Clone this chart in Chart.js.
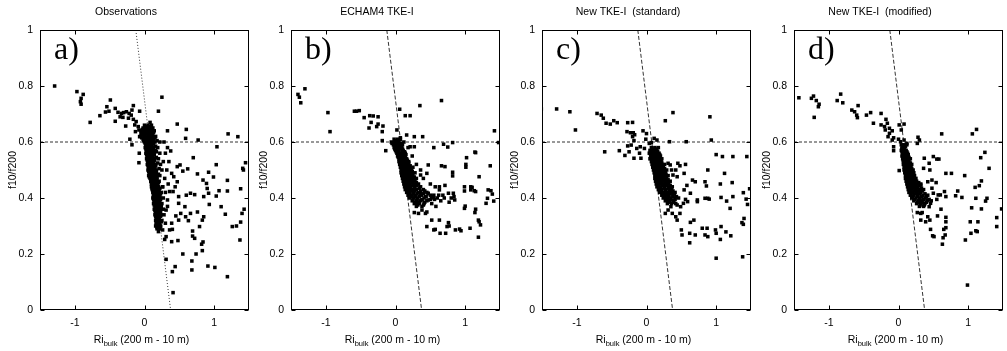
<!DOCTYPE html>
<html>
<head>
<meta charset="utf-8">
<script src="https://cdn.jsdelivr.net/npm/chart.js@4.4.0/dist/chart.umd.min.js"></script>
<style>
    html, body { margin: 0; padding: 0; background: #fff; }
    #wrap { position: relative; width: 1007px; height: 351px; overflow: hidden; }
    .panel { position: absolute; top: 0; width: 253px; height: 351px; }
</style>
</head>
<body>
<div id="wrap">
    <div class="panel" style="left:0px"><canvas id="panelA"></canvas></div>
    <div class="panel" style="left:251px"><canvas id="panelB"></canvas></div>
    <div class="panel" style="left:502px"><canvas id="panelC"></canvas></div>
    <div class="panel" style="left:754px"><canvas id="panelD"></canvas></div>
</div>
<script>
const panelTitles = ["Observations", "ECHAM4 TKE-I", "New TKE-I  (standard)", "New TKE-I  (modified)"]
const panelLetters = ["a)", "b)", "c)", "d)"]
const xRange = [-1.5, 1.5]
const yRange = [0, 1]
const xTicks = [-1, 0, 1]
const yTicks = [0, 0.2, 0.4, 0.6, 0.8, 1]
const thresholdY = 0.6
const regimeLineX = [-0.125, 0.375]
const regimeLineY = [1, 0]

// a) observations  [Ri_bulk, f10/f200]
const obsPoints = [
    [-1.29,0.80],[-0.97,0.78],[-0.88,0.77],[-0.91,0.756],[-0.92,0.744],[-0.91,0.735],[-0.78,0.67],[-0.64,0.694],
    [-0.49,0.75],[-0.54,0.726],[-0.56,0.707],[-0.51,0.71],[-0.42,0.72],[-0.42,0.674],[-0.38,0.706],[-0.33,0.702],
    [-0.30,0.705],[-0.26,0.708],[-0.22,0.702],[-0.19,0.696],[-0.35,0.69],[-0.31,0.688],[-0.23,0.685],[-0.16,0.681],
    [-0.12,0.673],[-0.14,0.661],[-0.09,0.655],[-0.08,0.643],[-0.13,0.637],[-0.05,0.631],[-0.07,0.619],[-0.16,0.73],
    [-0.18,0.714],[-0.07,0.71],[-0.27,0.657],[0.25,0.76],[0.20,0.71],[0.33,0.64],[0.47,0.664],[0.60,0.645],
    [-0.21,0.61],[-0.18,0.59],[-0.075,0.56],[-0.08,0.526],[0.77,0.607],[1.2,0.629],[1.34,0.619],[1.04,0.583],
    [0.33,0.58],[0.59,0.613],[0.376,0.568],[0.51,0.518],[0.47,0.512],[0.55,0.496],[0.62,0.504],[0.70,0.544],
    [0.76,0.486],[0.84,0.464],[0.92,0.492],[0.99,0.475],[1.03,0.519],[0.89,0.452],[0.90,0.434],[0.92,0.417],
    [0.85,0.405],[0.93,0.377],[1.03,0.407],[1.07,0.426],[1.19,0.463],[1.19,0.425],[1.41,0.506],[1.42,0.50],
    [1.45,0.526],[1.38,0.433],[1.43,0.36],[1.40,0.345],[1.38,0.314],[1.32,0.30],[1.26,0.298],[1.16,0.342],
    [1.10,0.369],[1.37,0.25],[1.19,0.119],[1.01,0.152],[0.91,0.157],[0.83,0.212],[0.82,0.235],[0.84,0.243],
    [0.74,0.20],[0.68,0.175],[0.68,0.143],[0.69,0.264],[0.69,0.282],[0.72,0.256],[0.55,0.20],[0.48,0.248],
    [0.39,0.244],[0.31,0.262],[0.29,0.252],[0.31,0.181],[0.44,0.155],[0.40,0.137],[0.41,0.062],[0.85,0.333],
    [0.83,0.321],[0.79,0.298],[0.76,0.35],[0.66,0.345],[0.63,0.319],[0.59,0.333],[0.6,0.41],[0.66,0.417],
    [0.72,0.412],[0.58,0.369],[0.49,0.381],[0.52,0.345],[0.49,0.321],[0.45,0.336],[0.39,0.31],[0.36,0.286],
    [0.40,0.288],[0.31,0.357],[0.33,0.393],[0.36,0.423],[0.41,0.423],[0.44,0.44],[0.47,0.458],[0.42,0.476],
    [0.39,0.488],[0.49,0.405],[0.26,0.286],[0.23,0.298],[0.19,0.321],[0.28,0.6],[0.3,0.56],[0.27,0.53],
    [0.32,0.5],[0.29,0.47],[0.34,0.45],[0.3,0.42],[0.27,0.4],[0.33,0.37],[0.28,0.34],[0.3,0.31],[0.26,0.44],[0.35,0.53],
    [0.0,0.66],[0.05,0.66],[0.1,0.66],[0.08,0.67],[-0.02,0.65],[0.03,0.65],[0.07,0.65],[0.12,0.65],
    [-0.05,0.64],[0.0,0.64],[0.04,0.64],[0.09,0.64],[0.14,0.64],[-0.03,0.63],[0.02,0.63],[0.06,0.63],[0.11,0.63],
    [-0.06,0.62],[0.0,0.62],[0.05,0.62],[0.1,0.62],[0.16,0.62],[-0.02,0.61],[0.03,0.61],[0.08,0.61],[0.13,0.61],
    [0.0,0.6],[0.05,0.6],[0.09,0.6],[0.15,0.6],[0.22,0.6],[0.02,0.59],[0.06,0.59],[0.11,0.59],
    [0.01,0.58],[0.04,0.58],[0.08,0.58],[0.13,0.58],[0.19,0.58],[0.03,0.57],[0.07,0.57],[0.1,0.57],[0.16,0.57],
    [0.02,0.56],[0.05,0.56],[0.09,0.56],[0.14,0.56],[0.22,0.56],[0.04,0.55],[0.08,0.55],[0.12,0.55],
    [0.03,0.54],[0.06,0.54],[0.1,0.54],[0.15,0.54],[0.2,0.54],[0.05,0.53],[0.09,0.53],[0.13,0.53],
    [0.04,0.52],[0.07,0.52],[0.11,0.52],[0.16,0.52],[0.23,0.52],[0.06,0.51],[0.1,0.51],[0.14,0.51],
    [0.05,0.5],[0.08,0.5],[0.12,0.5],[0.17,0.5],[0.25,0.5],[0.07,0.49],[0.11,0.49],[0.15,0.49],
    [0.06,0.48],[0.09,0.48],[0.13,0.48],[0.18,0.48],[0.22,0.48],[0.08,0.47],[0.12,0.47],[0.16,0.47],
    [0.09,0.46],[0.13,0.46],[0.17,0.46],[0.21,0.46],[0.1,0.45],[0.14,0.45],[0.18,0.45],
    [0.1,0.44],[0.13,0.44],[0.16,0.44],[0.2,0.44],[0.26,0.44],[0.11,0.43],[0.15,0.43],[0.19,0.43],
    [0.12,0.42],[0.16,0.42],[0.2,0.42],[0.24,0.42],[0.13,0.41],[0.17,0.41],[0.22,0.41],
    [0.12,0.4],[0.15,0.4],[0.19,0.4],[0.23,0.4],[0.14,0.39],[0.18,0.39],[0.21,0.39],
    [0.13,0.38],[0.17,0.38],[0.2,0.38],[0.25,0.38],[0.15,0.37],[0.19,0.37],[0.23,0.37],
    [0.14,0.36],[0.18,0.36],[0.22,0.36],[0.27,0.36],[0.16,0.35],[0.2,0.35],[0.15,0.34],[0.19,0.34],[0.24,0.34],
    [0.17,0.33],[0.21,0.33],[0.16,0.32],[0.2,0.32],[0.25,0.32],[0.17,0.31],[0.22,0.31],
    [0.16,0.3],[0.19,0.3],[0.23,0.3],[0.18,0.29],[0.22,0.29],[0.2,0.28],
    [0.01,0.655],[0.05,0.655],[0.09,0.655],[-0.03,0.645],[0.01,0.645],[0.06,0.645],[0.11,0.645],
    [-0.04,0.635],[0.01,0.635],[0.05,0.635],[0.09,0.635],[0.13,0.635],[-0.04,0.625],[0.01,0.625],[0.07,0.625],[0.12,0.625],
    [-0.04,0.615],[0.01,0.615],[0.06,0.615],[0.11,0.615],[0.15,0.615],[-0.01,0.605],[0.04,0.605],[0.08,0.605],[0.12,0.605],[0.18,0.605],
    [0.01,0.595],[0.04,0.595],[0.08,0.595],[0.13,0.595],[0.02,0.585],[0.06,0.585],[0.1,0.585],[0.16,0.585],
    [0.02,0.575],[0.05,0.575],[0.09,0.575],[0.13,0.575],[0.03,0.565],[0.07,0.565],[0.12,0.565],[0.17,0.565],
    [0.03,0.555],[0.06,0.555],[0.1,0.555],[0.14,0.555],[0.04,0.545],[0.08,0.545],[0.12,0.545],[0.17,0.545],
    [0.04,0.535],[0.07,0.535],[0.11,0.535],[0.14,0.535],[0.05,0.525],[0.09,0.525],[0.13,0.525],[0.19,0.525],
    [0.05,0.515],[0.08,0.515],[0.12,0.515],[0.16,0.515],[0.06,0.505],[0.1,0.505],[0.15,0.505],[0.21,0.505],
    [0.06,0.495],[0.09,0.495],[0.13,0.495],[0.17,0.495],[0.07,0.485],[0.11,0.485],[0.16,0.485],[0.2,0.485],
    [0.07,0.475],[0.1,0.475],[0.14,0.475],[0.18,0.475],[0.09,0.465],[0.13,0.465],[0.18,0.465],
    [0.1,0.455],[0.13,0.455],[0.16,0.455],[0.2,0.455],[0.11,0.445],[0.15,0.445],[0.19,0.445],
    [0.11,0.435],[0.14,0.435],[0.18,0.435],[0.22,0.435],[0.12,0.425],[0.17,0.425],[0.21,0.425],
    [0.13,0.415],[0.16,0.415],[0.2,0.415],[0.23,0.415],[0.13,0.405],[0.17,0.405],[0.2,0.405],
    [0.13,0.395],[0.16,0.395],[0.2,0.395],[0.23,0.395],[0.14,0.385],[0.18,0.385],[0.22,0.385],
    [0.14,0.375],[0.18,0.375],[0.21,0.375],[0.24,0.375],[0.16,0.365],[0.2,0.365],[0.24,0.365],
    [0.15,0.355],[0.19,0.355],[0.23,0.355],[0.16,0.345],[0.2,0.345],[0.23,0.345],[0.16,0.335],[0.2,0.335],[0.23,0.335],
    [0.17,0.325],[0.21,0.325],[0.17,0.315],[0.21,0.315],[0.24,0.315],[0.17,0.305],[0.21,0.305],[0.18,0.295],[0.21,0.295]
]

// b) ECHAM4 TKE-I
const echamPoints = [
    [-1.40,0.77],[-1.38,0.76],[-1.36,0.74],[-1.30,0.79],[-0.97,0.705],[-0.94,0.637],[-0.59,0.71],[-0.56,0.71],
    [-0.52,0.712],[-0.45,0.687],[-0.37,0.694],[-0.32,0.693],[-0.25,0.69],[-0.38,0.65],[-0.35,0.67],[-0.27,0.655],
    [-0.25,0.664],[-0.18,0.657],[-0.19,0.637],[-0.19,0.605],[-0.14,0.569],[0.02,0.643],[0.06,0.717],[0.14,0.694],
    [0.21,0.694],[0.35,0.73],[0.66,0.748],[0.07,0.615],[0.16,0.625],[0.39,0.619],[0.27,0.583],[0.21,0.583],
    [0.27,0.619],[0.55,0.58],[0.69,0.592],[0.82,0.598],[0.75,0.582],[1.42,0.64],[1.48,0.598],[0.47,0.518],
    [0.45,0.488],[0.36,0.5],[0.36,0.482],[0.66,0.515],[0.71,0.512],[0.82,0.492],[0.82,0.479],[1.01,0.52],
    [1.01,0.51],[1.02,0.544],[1.14,0.564],[1.15,0.562],[1.20,0.476],[1.36,0.515],[0.57,0.44],[0.63,0.44],
    [0.63,0.429],[0.71,0.445],[0.76,0.417],[0.83,0.417],[0.84,0.405],[0.85,0.393],[0.77,0.385],[0.99,0.44],
    [0.99,0.425],[1.08,0.44],[1.08,0.429],[1.10,0.438],[1.13,0.426],[1.15,0.423],[1.00,0.371],[0.99,0.363],
    [1.15,0.36],[1.14,0.348],[1.19,0.321],[1.20,0.315],[1.22,0.304],[1.19,0.26],[1.30,0.381],[1.32,0.399],
    [1.33,0.429],[1.37,0.426],[1.39,0.414],[1.41,0.389],[1.07,0.292],[0.86,0.286],[0.92,0.289],[0.94,0.283],
    [0.76,0.312],[0.77,0.30],[0.74,0.298],[0.64,0.274],[0.72,0.274],[0.57,0.288],[0.55,0.286],[0.45,0.298],
    [0.52,0.321],[0.63,0.321],[0.45,0.35],[0.43,0.345],[0.38,0.357],[0.33,0.345],[0.27,0.348],[0.47,0.393],
    [0.52,0.405],[0.47,0.417],[0.43,0.405],[0.38,0.393],[0.36,0.417],[0.31,0.381],[0.28,0.405],
    [0.12,0.6],[0.18,0.58],[0.24,0.55],[0.3,0.52],[0.4,0.47],[0.5,0.45],[0.55,0.41],[0.6,0.4],[0.65,0.39],
    [0.58,0.37],[0.52,0.38],[0.68,0.41],[0.56,0.395],[0.62,0.41],[0.7,0.4],[0.8,0.4],
    [-0.02,0.61],[0.03,0.61],[0.07,0.61],[-0.06,0.6],[-0.01,0.6],[0.04,0.6],[-0.03,0.59],[0.01,0.59],[0.06,0.59],[0.1,0.59],
    [-0.02,0.58],[0.03,0.58],[0.08,0.58],[0.0,0.57],[0.04,0.57],[0.11,0.57],[0.02,0.56],[0.06,0.56],[0.09,0.56],[0.14,0.56],
    [0.03,0.55],[0.07,0.55],[0.12,0.55],[0.05,0.54],[0.08,0.54],[0.11,0.54],[0.16,0.54],
    [0.05,0.53],[0.09,0.53],[0.13,0.53],[0.19,0.53],[0.06,0.52],[0.1,0.52],[0.14,0.52],[0.18,0.52],
    [0.07,0.51],[0.11,0.51],[0.15,0.51],[0.2,0.51],[0.25,0.51],[0.08,0.5],[0.12,0.5],[0.16,0.5],[0.21,0.5],
    [0.08,0.49],[0.12,0.49],[0.17,0.49],[0.22,0.49],[0.28,0.49],[0.09,0.48],[0.13,0.48],[0.18,0.48],[0.23,0.48],
    [0.1,0.47],[0.14,0.47],[0.19,0.47],[0.24,0.47],[0.3,0.47],[0.11,0.46],[0.15,0.46],[0.2,0.46],[0.26,0.46],
    [0.12,0.45],[0.16,0.45],[0.21,0.45],[0.27,0.45],[0.33,0.45],[0.13,0.44],[0.17,0.44],[0.22,0.44],[0.28,0.44],[0.36,0.44],
    [0.14,0.43],[0.19,0.43],[0.24,0.43],[0.3,0.43],[0.4,0.43],[0.16,0.42],[0.2,0.42],[0.26,0.42],[0.33,0.42],[0.45,0.42],
    [0.18,0.41],[0.23,0.41],[0.29,0.41],[0.37,0.41],[0.5,0.41],[0.2,0.4],[0.26,0.4],[0.32,0.4],[0.41,0.4],[0.55,0.4],
    [0.24,0.39],[0.3,0.39],[0.36,0.39],[0.45,0.39],[0.27,0.38],[0.34,0.38],[0.41,0.38],[0.3,0.37],[0.38,0.37],
    [0.0,0.605],[0.05,0.605],[-0.05,0.595],[-0.01,0.595],[0.03,0.595],[0.08,0.595],[0.0,0.585],[0.05,0.585],[0.09,0.585],
    [-0.01,0.575],[0.02,0.575],[0.06,0.575],[0.1,0.575],[0.01,0.565],[0.05,0.565],[0.1,0.565],[0.13,0.565],
    [0.04,0.555],[0.08,0.555],[0.11,0.555],[0.15,0.555],[0.04,0.545],[0.07,0.545],[0.1,0.545],[0.14,0.545],
    [0.06,0.535],[0.1,0.535],[0.14,0.535],[0.17,0.535],[0.07,0.525],[0.11,0.525],[0.15,0.525],[0.19,0.525],
    [0.08,0.515],[0.12,0.515],[0.16,0.515],[0.21,0.515],[0.09,0.505],[0.13,0.505],[0.18,0.505],[0.23,0.505],
    [0.1,0.495],[0.14,0.495],[0.19,0.495],[0.24,0.495],[0.1,0.485],[0.15,0.485],[0.2,0.485],[0.25,0.485],
    [0.11,0.475],[0.16,0.475],[0.21,0.475],[0.27,0.475],[0.12,0.465],[0.17,0.465],[0.22,0.465],[0.28,0.465],
    [0.13,0.455],[0.18,0.455],[0.24,0.455],[0.3,0.455],[0.14,0.445],[0.19,0.445],[0.25,0.445],[0.31,0.445],
    [0.15,0.435],[0.21,0.435],[0.27,0.435],[0.34,0.435],[0.17,0.425],[0.22,0.425],[0.28,0.425],[0.36,0.425],[0.42,0.425],
    [0.19,0.415],[0.25,0.415],[0.31,0.415],[0.4,0.415],[0.47,0.415],[0.22,0.405],[0.28,0.405],[0.34,0.405],[0.44,0.405],[0.52,0.405],
    [0.25,0.395],[0.31,0.395],[0.38,0.395],[0.5,0.395],[0.28,0.385],[0.34,0.385],[0.42,0.385],[0.32,0.375],[0.4,0.375]
]

// c) new TKE-I, standard
const standardPoints = [
    [-1.51,0.718],[-1.29,0.718],[-1.10,0.708],[-1.02,0.643],[-0.71,0.702],[-0.65,0.696],[-0.62,0.685],[-0.58,0.667],
    [-0.52,0.664],[-0.47,0.676],[-0.42,0.669],[-0.60,0.565],[-0.39,0.569],[-0.31,0.552],[-0.27,0.586],[-0.27,0.669],
    [-0.20,0.67],[-0.28,0.637],[-0.23,0.633],[-0.19,0.633],[-0.17,0.626],[-0.20,0.619],[-0.18,0.605],[-0.22,0.589],
    [-0.25,0.565],[-0.18,0.542],[-0.14,0.577],[-0.09,0.583],[-0.10,0.56],[-0.03,0.577],[-0.01,0.61],[-0.05,0.64],
    [0.0,0.63],[-0.08,0.542],[0.04,0.595],[0.07,0.598],[0.11,0.613],[0.15,0.607],[0.27,0.676],[0.38,0.705],
    [0.33,0.601],[0.57,0.601],[0.91,0.69],[0.93,0.607],[1.00,0.555],[1.09,0.548],[1.24,0.548],[1.44,0.548],
    [0.45,0.524],[0.48,0.515],[0.56,0.52],[0.54,0.488],[0.66,0.464],[0.70,0.458],[0.44,0.476],[0.42,0.5],
    [0.38,0.482],[0.36,0.5],[0.34,0.518],[0.31,0.524],[0.88,0.5],[0.84,0.458],[0.86,0.443],[1.06,0.45],
    [1.12,0.488],[1.23,0.455],[0.58,0.445],[0.54,0.429],[0.63,0.417],[0.73,0.393],[0.73,0.387],[0.84,0.399],
    [0.88,0.399],[0.90,0.396],[1.07,0.402],[1.15,0.389],[1.20,0.363],[1.24,0.405],[1.39,0.419],[1.43,0.396],
    [1.45,0.377],[1.48,0.433],[1.40,0.327],[1.37,0.312],[1.39,0.306],[1.38,0.19],[1.00,0.185],[0.99,0.286],
    [1.00,0.274],[1.06,0.252],[1.07,0.298],[1.14,0.279],[1.21,0.265],[0.80,0.292],[0.87,0.292],[0.88,0.262],
    [0.84,0.268],[0.68,0.321],[0.70,0.268],[0.63,0.313],[0.62,0.274],[0.62,0.24],[0.50,0.286],[0.51,0.268],
    [0.44,0.321],[0.48,0.345],[0.42,0.333],[0.37,0.345],[0.31,0.357],[0.27,0.345],[0.56,0.395],[0.59,0.387],
    [0.53,0.381],[0.49,0.369],[0.44,0.375],[0.39,0.387],[0.35,0.369],[0.29,0.393],
    [0.07,0.58],[0.12,0.58],[0.17,0.58],[0.05,0.57],[0.1,0.57],[0.15,0.57],[0.04,0.56],[0.08,0.56],[0.13,0.56],[0.18,0.56],
    [0.06,0.55],[0.1,0.55],[0.15,0.55],[0.2,0.55],[0.05,0.54],[0.09,0.54],[0.13,0.54],[0.17,0.54],[0.22,0.54],
    [0.07,0.53],[0.11,0.53],[0.15,0.53],[0.2,0.53],[0.08,0.52],[0.12,0.52],[0.16,0.52],[0.21,0.52],[0.26,0.52],
    [0.09,0.51],[0.13,0.51],[0.18,0.51],[0.23,0.51],[0.1,0.5],[0.14,0.5],[0.19,0.5],[0.24,0.5],[0.29,0.5],
    [0.11,0.49],[0.15,0.49],[0.2,0.49],[0.25,0.49],[0.12,0.48],[0.16,0.48],[0.21,0.48],[0.26,0.48],[0.31,0.48],
    [0.12,0.47],[0.17,0.47],[0.22,0.47],[0.27,0.47],[0.13,0.46],[0.18,0.46],[0.23,0.46],[0.28,0.46],[0.34,0.46],
    [0.14,0.45],[0.19,0.45],[0.24,0.45],[0.3,0.45],[0.15,0.44],[0.2,0.44],[0.26,0.44],[0.32,0.44],[0.37,0.44],
    [0.17,0.43],[0.22,0.43],[0.28,0.43],[0.34,0.43],[0.19,0.42],[0.24,0.42],[0.3,0.42],[0.36,0.42],[0.41,0.42],
    [0.22,0.41],[0.27,0.41],[0.32,0.41],[0.38,0.41],[0.24,0.4],[0.3,0.4],[0.35,0.4],[0.41,0.4],[0.46,0.4],
    [0.27,0.39],[0.33,0.39],[0.39,0.39],[0.3,0.38],[0.36,0.38],[0.42,0.38],
    [0.08,0.575],[0.13,0.575],[0.06,0.565],[0.11,0.565],[0.16,0.565],[0.06,0.555],[0.1,0.555],[0.14,0.555],[0.19,0.555],
    [0.07,0.545],[0.11,0.545],[0.15,0.545],[0.19,0.545],[0.08,0.535],[0.12,0.535],[0.16,0.535],[0.21,0.535],
    [0.09,0.525],[0.13,0.525],[0.17,0.525],[0.22,0.525],[0.1,0.515],[0.14,0.515],[0.19,0.515],[0.24,0.515],
    [0.11,0.505],[0.16,0.505],[0.21,0.505],[0.26,0.505],[0.12,0.495],[0.17,0.495],[0.22,0.495],[0.27,0.495],
    [0.13,0.485],[0.18,0.485],[0.23,0.485],[0.28,0.485],[0.14,0.475],[0.19,0.475],[0.24,0.475],[0.29,0.475],
    [0.15,0.465],[0.2,0.465],[0.25,0.465],[0.31,0.465],[0.16,0.455],[0.21,0.455],[0.27,0.455],[0.32,0.455],
    [0.17,0.445],[0.23,0.445],[0.28,0.445],[0.34,0.445],[0.19,0.435],[0.25,0.435],[0.31,0.435],[0.36,0.435],
    [0.21,0.425],[0.27,0.425],[0.33,0.425],[0.38,0.425],[0.23,0.415],[0.29,0.415],[0.34,0.415],[0.4,0.415],
    [0.26,0.405],[0.32,0.405],[0.38,0.405],[0.43,0.405],[0.28,0.395],[0.35,0.395],[0.41,0.395],[0.32,0.385],[0.38,0.385]
]

// d) new TKE-I, modified
const modifiedPoints = [
    [-1.43,0.758],[-1.25,0.756],[-1.22,0.764],[-1.18,0.748],[-1.14,0.735],[-1.15,0.726],[-1.21,0.688],[-0.88,0.748],
    [-0.83,0.771],[-0.80,0.74],[-0.67,0.714],[-0.63,0.708],[-0.60,0.696],[-0.58,0.73],[-0.59,0.687],[-0.46,0.696],
    [-0.40,0.705],[-0.36,0.667],[-0.25,0.702],[-0.25,0.661],[-0.18,0.681],[-0.16,0.667],[-0.20,0.655],[-0.19,0.643],
    [-0.13,0.649],[-0.09,0.64],[-0.13,0.631],[-0.15,0.619],[-0.07,0.615],[-0.09,0.607],[-0.07,0.583],[-0.07,0.569],
    [0.01,0.498],[0.01,0.661],[0.08,0.664],[0.04,0.643],[0.0,0.61],[0.03,0.601],[0.06,0.577],[0.08,0.607],
    [0.12,0.595],[0.28,0.617],[0.30,0.607],[0.27,0.595],[0.62,0.629],[1.06,0.629],[1.12,0.645],[1.24,0.563],
    [1.18,0.544],[1.19,0.461],[1.30,0.506],[1.16,0.444],[1.10,0.438],[1.11,0.399],[1.27,0.399],[1.25,0.389],
    [1.19,0.361],[1.48,0.361],[1.41,0.33],[1.41,0.298],[1.05,0.365],[1.03,0.315],[1.14,0.315],[1.11,0.283],
    [1.13,0.28],[1.04,0.274],[0.96,0.25],[0.99,0.089],[0.95,0.48],[0.91,0.402],[0.85,0.425],[0.82,0.408],
    [0.76,0.488],[0.68,0.488],[0.68,0.405],[0.66,0.423],[0.60,0.411],[0.57,0.411],[0.55,0.395],[0.54,0.455],
    [0.58,0.539],[0.55,0.539],[0.50,0.548],[0.44,0.524],[0.37,0.542],[0.36,0.506],[0.45,0.5],[0.48,0.464],
    [0.42,0.458],[0.48,0.435],[0.50,0.417],[0.32,0.446],[0.68,0.331],[0.68,0.315],[0.68,0.294],[0.65,0.288],
    [0.67,0.268],[0.64,0.258],[0.63,0.235],[0.61,0.36],[0.56,0.336],[0.46,0.288],[0.49,0.265],[0.51,0.262],
    [0.45,0.321],[0.42,0.333],[0.39,0.315],[0.32,0.321],[0.32,0.345],[0.34,0.348],[0.27,0.348],[0.44,0.369],
    [0.46,0.381],[0.42,0.393],[0.37,0.381],[0.32,0.383],
    [0.04,0.59],[0.08,0.59],[0.12,0.59],[0.05,0.58],[0.09,0.58],[0.04,0.57],[0.07,0.57],[0.11,0.57],
    [0.06,0.56],[0.1,0.56],[0.13,0.56],[0.05,0.55],[0.08,0.55],[0.12,0.55],[0.06,0.54],[0.09,0.54],[0.13,0.54],[0.17,0.54],
    [0.07,0.53],[0.1,0.53],[0.14,0.53],[0.07,0.52],[0.11,0.52],[0.15,0.52],[0.19,0.52],[0.08,0.51],[0.12,0.51],[0.16,0.51],
    [0.08,0.5],[0.12,0.5],[0.16,0.5],[0.21,0.5],[0.09,0.49],[0.13,0.49],[0.17,0.49],[0.22,0.49],
    [0.1,0.48],[0.14,0.48],[0.18,0.48],[0.23,0.48],[0.1,0.47],[0.14,0.47],[0.19,0.47],[0.25,0.47],
    [0.11,0.46],[0.15,0.46],[0.2,0.46],[0.26,0.46],[0.12,0.45],[0.16,0.45],[0.21,0.45],[0.27,0.45],[0.32,0.45],
    [0.13,0.44],[0.17,0.44],[0.22,0.44],[0.28,0.44],[0.14,0.43],[0.18,0.43],[0.24,0.43],[0.3,0.43],[0.36,0.43],
    [0.15,0.42],[0.2,0.42],[0.26,0.42],[0.32,0.42],[0.17,0.41],[0.22,0.41],[0.28,0.41],[0.35,0.41],[0.42,0.41],
    [0.19,0.4],[0.25,0.4],[0.31,0.4],[0.38,0.4],[0.22,0.39],[0.28,0.39],[0.34,0.39],[0.41,0.39],[0.47,0.39],
    [0.26,0.38],[0.32,0.38],[0.38,0.38],[0.3,0.37],[0.36,0.37],
    [0.06,0.585],[0.1,0.585],[0.05,0.575],[0.08,0.575],[0.05,0.565],[0.09,0.565],[0.12,0.565],
    [0.06,0.555],[0.1,0.555],[0.14,0.555],[0.07,0.545],[0.11,0.545],[0.15,0.545],[0.07,0.535],[0.11,0.535],[0.15,0.535],
    [0.08,0.525],[0.12,0.525],[0.17,0.525],[0.09,0.515],[0.13,0.515],[0.18,0.515],[0.1,0.505],[0.14,0.505],[0.19,0.505],
    [0.1,0.495],[0.14,0.495],[0.19,0.495],[0.11,0.485],[0.15,0.485],[0.2,0.485],[0.12,0.475],[0.16,0.475],[0.21,0.475],
    [0.12,0.465],[0.17,0.465],[0.22,0.465],[0.13,0.455],[0.18,0.455],[0.23,0.455],[0.29,0.455],
    [0.14,0.445],[0.19,0.445],[0.24,0.445],[0.3,0.445],[0.15,0.435],[0.2,0.435],[0.26,0.435],[0.33,0.435],
    [0.17,0.425],[0.22,0.425],[0.28,0.425],[0.34,0.425],[0.18,0.415],[0.24,0.415],[0.3,0.415],[0.38,0.415],
    [0.2,0.405],[0.27,0.405],[0.33,0.405],[0.4,0.405],[0.23,0.395],[0.3,0.395],[0.36,0.395],[0.44,0.395],
    [0.27,0.385],[0.33,0.385],[0.4,0.385],[0.31,0.375],[0.37,0.375]
]

const panelData = [obsPoints, echamPoints, standardPoints, modifiedPoints]
const panelIds = ["panelA", "panelB", "panelC", "panelD"]
const sans = '"Liberation Sans", Arial, sans-serif'

// frame, inward ticks on all four sides, panel letter and Ri_bulk label
const gnuplotFrame = {
    id: "gnuplotFrame",
    afterDatasetsDraw(chart, args, opts) {

        const { ctx, chartArea: a, scales: { x, y } } = chart
        const L = Math.round(a.left) + 0.5, R = Math.round(a.right) - 0.5
        const T = Math.round(a.top) + 0.5, B = Math.round(a.bottom) - 0.5
        const tl = 4

        ctx.save()
        ctx.strokeStyle = "#000"
        ctx.lineWidth = 1
        ctx.setLineDash([])
        ctx.strokeRect(L, T, R - L, B - T)

        ctx.beginPath()
        xTicks.forEach(v => {
            const px = Math.round(x.getPixelForValue(v)) + 0.5
            ctx.moveTo(px, B); ctx.lineTo(px, B - tl)
            ctx.moveTo(px, T); ctx.lineTo(px, T + tl)
        })
        yTicks.forEach(v => {
            const py = Math.round(y.getPixelForValue(v)) + 0.5
            ctx.moveTo(L, py); ctx.lineTo(L + tl, py)
            ctx.moveTo(R, py); ctx.lineTo(R - tl, py)
        })
        ctx.stroke()

        ctx.fillStyle = "#000"
        ctx.font = '32px "Liberation Serif", "Times New Roman", serif'
        ctx.textBaseline = "alphabetic"
        ctx.textAlign = "left"
        ctx.fillText(opts.letter, a.left + 14, a.top + 29)

        // x label with subscript
        const big = "10.5px " + sans, small = "7.5px " + sans
        ctx.font = big
        const w1 = ctx.measureText("Ri").width
        const w3 = ctx.measureText(" (200 m - 10 m)").width
        ctx.font = small
        const w2 = ctx.measureText("bulk").width
        let cx = (a.left + a.right) / 2 - 3 - (w1 + w2 + w3) / 2
        const base = 343
        ctx.font = big
        ctx.fillText("Ri", cx, base)
        cx += w1
        ctx.font = small
        ctx.fillText("bulk", cx, base + 3)
        cx += w2
        ctx.font = big
        ctx.fillText(" (200 m - 10 m)", cx, base)
        ctx.restore()
    }
}

const buildPanel = (i) => {

    const pts = panelData[i]
    const ctx = document.getElementById(panelIds[i]).getContext("2d")

    new Chart(ctx, {
        type: "scatter",
        data: {
            datasets: [
                {
                    data: pts.map(p => ({ x: p[0], y: p[1] })),
                    pointStyle: "rect",
                    pointRadius: 2.5,
                    pointBorderWidth: 0,
                    backgroundColor: "#000",
                    borderColor: "#000",
                    order: 1
                },
                {
                    type: "line",
                    data: xRange.map(v => ({ x: v, y: thresholdY })),
                    borderColor: "#333",
                    borderWidth: 1,
                    borderDash: [3, 2],
                    pointRadius: 0,
                    order: 2
                },
                {
                    type: "line",
                    data: regimeLineX.map((v, k) => ({ x: v, y: regimeLineY[k] })),
                    borderColor: "#333",
                    borderWidth: 1,
                    borderDash: i === 0 ? [1, 2] : [4, 2],
                    pointRadius: 0,
                    order: 2
                }
            ]
        },
        options: {
            responsive: true,
            maintainAspectRatio: false,
            animation: false,
            layout: { padding: { top: 0, right: 1, bottom: 0, left: 0 } },
            plugins: {
                legend: { display: false },
                tooltip: { enabled: false },
                title: {
                    display: true,
                    text: panelTitles[i],
                    color: "#000",
                    font: { family: sans, size: 10.5, weight: "normal" },
                    padding: { top: 6, bottom: 11.4 }
                },
                gnuplotFrame: { letter: panelLetters[i] }
            },
            scales: {
                x: {
                    type: "linear",
                    min: xRange[0],
                    max: xRange[1],
                    afterBuildTicks: s => { s.ticks = xTicks.map(v => ({ value: v })) },
                    afterFit: s => { s.height = 41 },
                    grid: { display: false, drawTicks: false },
                    border: { display: false },
                    ticks: {
                        color: "#000",
                        font: { family: sans, size: 10.5 },
                        padding: 7,
                        maxRotation: 0,
                        callback: v => String(v)
                    }
                },
                y: {
                    type: "linear",
                    min: yRange[0],
                    max: yRange[1],
                    afterBuildTicks: s => { s.ticks = yTicks.map(v => ({ value: v })) },
                    afterFit: s => { s.width = 40 },
                    grid: { display: false, drawTicks: false },
                    border: { display: false },
                    title: {
                        display: true,
                        text: "f10/f200",
                        color: "#000",
                        font: { family: sans, size: 10.5 },
                        padding: { top: 7, bottom: 0 }
                    },
                    ticks: {
                        color: "#000",
                        font: { family: sans, size: 10.5 },
                        padding: 7,
                        callback: v => String(v)
                    }
                }
            }
        },
        plugins: [gnuplotFrame]
    })
}

document.addEventListener("DOMContentLoaded", () => {

    panelIds.forEach((id, i) => buildPanel(i))
})
</script>
</body>
</html>
